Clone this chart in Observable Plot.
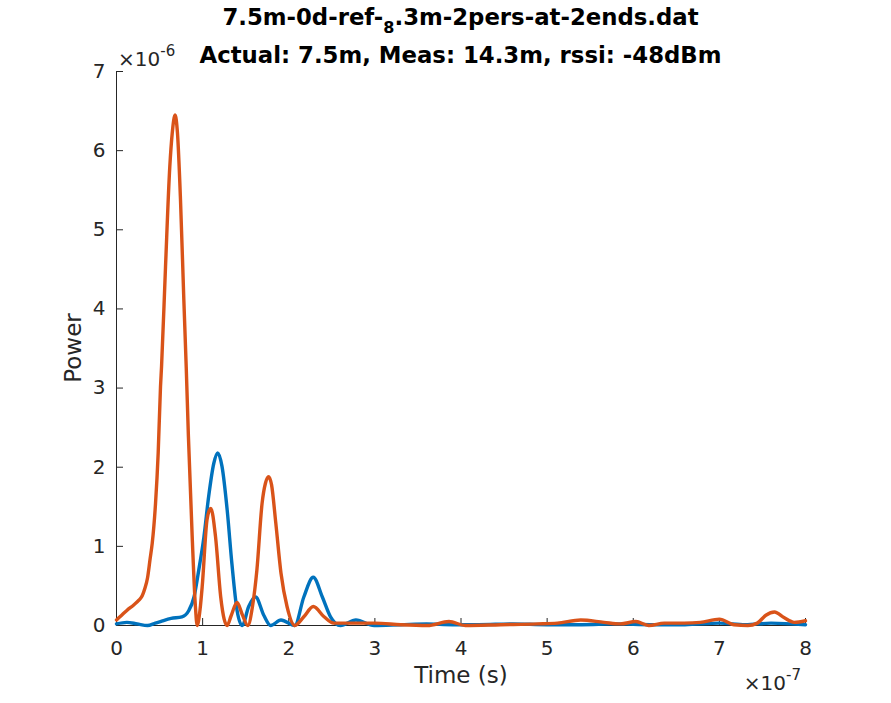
<!DOCTYPE html>
<html><head><meta charset="utf-8">
<script src="https://cdn.jsdelivr.net/npm/d3@7"></script>
<script src="https://cdn.jsdelivr.net/npm/@observablehq/plot@0.6"></script>
<style>
body{margin:0;background:#fff;}
#wrap{width:891px;height:703px;}
</style></head>
<body><div id="wrap"></div>
<script>
// time in units of 1e-7 s, power in units of 1e-6
const tBlue = [0, 0.12, 0.24, 0.36, 0.45, 0.51, 0.635, 0.76, 0.84, 0.90, 0.955, 1.015, 1.07, 1.13, 1.175, 1.225, 1.285, 1.34, 1.40, 1.46, 1.535, 1.615, 1.71, 1.79, 1.91, 2.07, 2.175, 2.285, 2.39, 2.485, 2.60, 2.78, 2.99, 3.3, 3.6, 3.9, 4.2, 4.6, 5.0, 5.4, 5.8, 6.2, 6.6, 7.0, 7.3, 7.6, 8.0];
const pBlue = [0.02, 0.04, 0.02, 0.0, 0.03, 0.05, 0.09, 0.11, 0.19, 0.36, 0.70, 1.12, 1.63, 2.05, 2.18, 2.01, 1.46, 0.78, 0.19, 0.0, 0.24, 0.36, 0.13, 0.0, 0.07, 0.0, 0.36, 0.61, 0.36, 0.11, 0.0, 0.07, 0.0, 0.01, 0.02, 0.01, 0.01, 0.02, 0.01, 0.01, 0.02, 0.01, 0.01, 0.03, 0.01, 0.03, 0.01];
const tOrange = [0, 0.06, 0.12, 0.2, 0.26, 0.3, 0.33, 0.36, 0.39, 0.415, 0.453, 0.484, 0.511, 0.523, 0.569, 0.619, 0.647, 0.68, 0.708, 0.743, 0.782, 0.81, 0.835, 0.879, 0.914, 0.937, 0.97, 0.995, 1.05, 1.075, 1.095, 1.15, 1.21, 1.25, 1.285, 1.33, 1.40, 1.46, 1.525, 1.58, 1.63, 1.69, 1.73, 1.765, 1.80, 1.85, 1.91, 1.98, 2.07, 2.175, 2.285, 2.41, 2.52, 2.72, 3.0, 3.3, 3.61, 3.86, 4.05, 4.46, 4.89, 5.12, 5.39, 5.66, 5.85, 6.03, 6.18, 6.36, 6.59, 6.78, 7.0, 7.17, 7.33, 7.44, 7.54, 7.64, 7.75, 7.87, 8.0];
const pOrange = [0.07, 0.13, 0.19, 0.26, 0.32, 0.38, 0.47, 0.6, 0.84, 1.04, 1.54, 2.18, 3.02, 3.27, 4.53, 5.80, 6.22, 6.45, 6.22, 5.38, 4.11, 3.25, 2.39, 1.12, 0.28, 0.0, 0.2, 0.49, 1.33, 1.45, 1.48, 1.12, 0.36, 0.08, 0.0, 0.12, 0.29, 0.14, 0.0, 0.25, 0.70, 1.54, 1.8, 1.88, 1.78, 1.29, 0.66, 0.24, 0.0, 0.11, 0.24, 0.11, 0.03, 0.03, 0.03, 0.01, 0.0, 0.05, 0.0, 0.01, 0.02, 0.03, 0.07, 0.04, 0.02, 0.05, 0.0, 0.03, 0.03, 0.04, 0.08, 0.01, 0.0, 0.03, 0.13, 0.17, 0.10, 0.04, 0.06];
const xTicks = [0, 1, 2, 3, 4, 5, 6, 7, 8];
const yTicks = [0, 1, 2, 3, 4, 5, 6, 7];

const blue = tBlue.map((t, i) => ({t, p: pBlue[i]}));
const orange = tOrange.map((t, i) => ({t, p: pOrange[i]}));
const axisColor = "#262626";

const chart = Plot.plot({
  width: 891, height: 703,
  marginLeft: 116, marginRight: 86, marginTop: 71, marginBottom: 78,
  x: {domain: [0, 8]},
  y: {domain: [0, 7]},
  style: {fontFamily: "DejaVu Sans", fontSize: "20px", color: axisColor, background: "white", overflow: "visible"},
  marks: [
    Plot.axisX({ticks: xTicks, tickFormat: d => String(d), tickSize: -7, tickPadding: 22, label: null, fontSize: 20, stroke: axisColor, fill: axisColor}),
    Plot.axisY({ticks: yTicks, tickFormat: d => String(d), tickSize: -7, tickPadding: 18, label: null, fontSize: 20, stroke: axisColor, fill: axisColor}),
    Plot.ruleX([0], {stroke: axisColor, strokeWidth: 1}),
    Plot.ruleY([0], {stroke: axisColor, strokeWidth: 1}),
    Plot.line(blue, {x: "t", y: "p", stroke: "#0072BD", strokeWidth: 3.4, curve: "monotone-x"}),
    Plot.line(orange, {x: "t", y: "p", stroke: "#D95319", strokeWidth: 3.4, curve: "monotone-x"})
  ]
});
document.getElementById("wrap").appendChild(chart);

const svg = d3.select(chart);
const ff = "DejaVu Sans";
// Title
const t1 = svg.append("text").attr("x", 460.5).attr("y", 25).attr("text-anchor", "middle")
  .attr("font-family", ff).attr("font-weight", "bold").attr("font-size", 22.8).attr("fill", "#000");
t1.append("tspan").text("7.5m-0d-ref-");
t1.append("tspan").attr("dy", 8).attr("font-size", 16).text("8");
t1.append("tspan").attr("dy", -8).text(".3m-2pers-at-2ends.dat");
svg.append("text").attr("x", 460.5).attr("y", 63).attr("text-anchor", "middle")
  .attr("font-family", ff).attr("font-weight", "bold").attr("font-size", 22.8).attr("fill", "#000")
  .text("Actual: 7.5m, Meas: 14.3m, rssi: -48dBm");
// Axis labels
svg.append("text").attr("x", 461).attr("y", 683).attr("text-anchor", "middle")
  .attr("font-family", ff).attr("font-size", 23).attr("fill", axisColor).text("Time (s)");
svg.append("text").attr("transform", "translate(81,348) rotate(-90)").attr("text-anchor", "middle")
  .attr("font-family", ff).attr("font-size", 23).attr("fill", axisColor).text("Power");
// Exponent labels
const e1 = svg.append("text").attr("x", 118).attr("y", 66).attr("text-anchor", "start")
  .attr("font-family", ff).attr("font-size", 20).attr("fill", axisColor);
e1.append("tspan").text("\u00D710");
e1.append("tspan").attr("dy", -10).attr("font-size", 15).text("-6");
const e2 = svg.append("text").attr("x", 801).attr("y", 690).attr("text-anchor", "end")
  .attr("font-family", ff).attr("font-size", 20).attr("fill", axisColor);
e2.append("tspan").text("\u00D710");
e2.append("tspan").attr("dy", -10).attr("font-size", 15).text("-7");
</script>
</body></html>
